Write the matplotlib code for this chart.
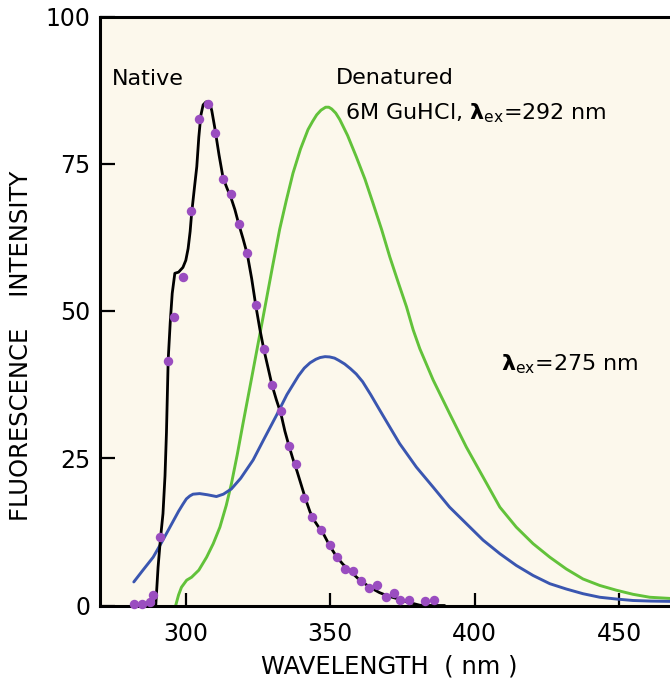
import matplotlib
matplotlib.use("Agg")
import matplotlib.pyplot as plt

plt.rcParams['font.family'] = ['DejaVu Sans']
plt.rcParams['mathtext.fontset'] = 'dejavusans'

# Native protein, fitted line (black)
native_x = [289.6, 290.4, 291.2, 292.1, 292.8, 293.3, 293.9, 294.6, 295.3, 296.2, 297.5, 299.0,
            300.0, 300.8, 301.5, 302.0, 303.0, 303.8, 304.5, 305.2, 306.0, 307.0, 308.2, 309.0,
            310.0, 311.5, 312.9, 314.3, 315.6, 317.0, 318.3, 319.8, 321.3, 322.8, 324.2, 325.6,
            327.0, 328.5, 329.8, 331.3, 332.9, 334.3, 335.6, 337.0, 338.5, 340.0, 341.5, 343.0,
            344.5, 346.0, 347.5, 349.0, 350.5, 352.3, 354.4, 357.0, 360.0, 363.7, 367.0, 370.0,
            372.9, 376.0, 379.0, 381.0, 385.0, 389.6]
native_y = [0.0, 6.5, 11.2, 15.6, 22.0, 29.3, 41.7, 48.0, 53.0, 56.4, 56.6, 57.4,
            58.6, 60.6, 63.5, 66.5, 71.0, 74.5, 79.5, 83.2, 85.0, 85.5, 85.5, 84.0,
            81.2, 76.5, 72.6, 70.8, 69.3, 67.2, 64.8, 62.3, 59.6, 55.5, 51.0, 47.0,
            43.5, 40.3, 37.5, 35.0, 32.6, 29.6, 27.3, 25.0, 22.8, 20.4, 18.0, 15.9,
            14.4, 13.3, 12.3, 10.9, 9.6, 8.2, 7.0, 5.8, 4.4, 3.1, 2.2, 1.6,
            1.2, 0.7, 0.3, 0.05, 0.0, 0.0]

# Native protein, measured points (purple dots)
dots_x = [282.0, 285.0, 287.5, 288.7, 291.0, 293.7, 295.8, 299.1, 301.7, 304.5, 307.7, 310.0,
          312.9, 315.6, 318.3, 321.3, 324.2, 327.0, 329.8, 332.9, 335.6, 338.0, 340.8, 343.6,
          346.7, 349.8, 352.3, 355.0, 357.9, 360.8, 363.4, 366.2, 369.2, 372.0, 374.3, 377.3,
          382.7, 385.8]
dots_y = [0.3, 0.2, 0.6, 1.7, 11.6, 41.5, 49.0, 55.8, 67.0, 82.6, 85.2, 80.3,
          72.4, 69.8, 64.8, 59.8, 51.0, 43.5, 37.4, 33.0, 27.0, 24.1, 18.2, 15.0,
          12.8, 10.2, 8.2, 6.2, 5.8, 4.1, 3.0, 3.4, 1.4, 2.1, 0.85, 1.0,
          0.7, 0.85]

# Denatured, excitation 275 nm (blue)
ex275_x = [282.0, 285.0, 288.7, 291.5, 294.5, 297.5, 299.0, 300.2, 301.4, 302.5, 304.8, 307.5,
           310.6, 313.0, 315.8, 319.0, 323.3, 327.0, 331.4, 335.0, 339.0, 341.0, 343.0, 345.0,
           346.5, 348.2, 349.8, 351.5, 353.0, 355.0, 357.0, 359.0, 361.2, 364.0, 367.1, 370.0,
           374.0, 379.8, 385.6, 391.3, 397.1, 402.9, 408.7, 414.4, 420.2, 426.0, 431.7, 437.5,
           443.3, 449.0, 454.8, 461.0, 467.6]
ex275_y = [4.0, 5.9, 8.2, 10.6, 13.3, 16.0, 17.2, 18.1, 18.6, 18.9, 19.0, 18.8,
           18.5, 18.9, 19.8, 21.6, 24.7, 28.2, 32.3, 35.8, 39.0, 40.3, 41.2, 41.8,
           42.1, 42.25, 42.2, 42.0, 41.6, 41.0, 40.2, 39.3, 38.0, 35.8, 33.2, 30.8,
           27.5, 23.5, 20.1, 16.7, 13.9, 11.1, 8.8, 6.8, 5.1, 3.7, 2.8, 2.0,
           1.4, 1.1, 0.85, 0.75, 0.7]

# Denatured, excitation 292 nm (green)
ex292_x = [296.5, 297.5, 298.5, 300.3, 302.0, 304.5, 307.2, 309.5, 311.8, 314.0, 315.8, 317.8,
           319.8, 322.7, 324.5, 327.3, 330.0, 332.5, 334.8, 337.1, 339.7, 342.3, 343.9, 345.3,
           346.8, 348.4, 349.5, 350.5, 351.9, 353.3, 356.0, 359.0, 362.0, 364.8, 367.8, 370.6,
           373.5, 376.4, 378.7, 381.0, 385.6, 391.3, 397.1, 402.9, 408.7, 414.4, 420.2, 426.0,
           431.7, 437.5, 443.3, 449.0, 454.8, 460.6, 467.6]
ex292_y = [0.0, 1.8, 3.1, 4.3, 4.8, 6.0, 8.2, 10.5, 13.3, 17.0, 20.7, 25.6,
           30.9, 38.4, 43.1, 50.4, 57.5, 63.9, 68.8, 73.4, 77.5, 80.8, 82.2, 83.3,
           84.1, 84.6, 84.6, 84.3, 83.6, 82.5, 79.8, 76.2, 72.4, 68.3, 63.8, 59.2,
           54.9, 50.7, 46.8, 43.6, 38.3, 32.6, 26.9, 21.8, 16.7, 13.3, 10.5, 8.2,
           6.2, 4.5, 3.4, 2.6, 1.9, 1.4, 1.2]

x_ticks = [300, 350, 400, 450]
y_ticks = [0, 25, 50, 75, 100]

fig = plt.figure(figsize=(6.7, 6.88), dpi=100)
ax = fig.add_axes([100/670, 1 - 605.5/688, 570/670, 589/688])
ax.set_facecolor('#fcf8ec')

line_kw = dict(solid_joinstyle='round', solid_capstyle='round')
ax.plot(ex292_x, ex292_y, color='#62c23a', lw=2.1, zorder=2, **line_kw)
ax.plot(ex275_x, ex275_y, color='#3a56b0', lw=2.1, zorder=2, **line_kw)
ax.plot(native_x, native_y, color='black', lw=2.0, zorder=3, **line_kw)
ax.plot(dots_x, dots_y, linestyle='none', marker='o', ms=6.8, color='#9a4dc0',
        markeredgewidth=0, zorder=4, clip_on=False)

ax.set_xlim(270.3, 467.6)
ax.set_ylim(0, 100)
ax.set_xticks(x_ticks)
ax.set_yticks(y_ticks)
ax.tick_params(axis='both', direction='in', width=1.6, labelsize=17, color='black')
ax.tick_params(axis='y', length=11, pad=7)
ax.tick_params(axis='x', length=9.5, pad=12)

for side in ['left', 'bottom', 'top']:
    ax.spines[side].set_linewidth(2.2)
ax.spines['right'].set_visible(False)

ax.set_xlabel('WAVELENGTH  ( nm )', fontsize=17.5)
ax.xaxis.set_label_coords(0.507, -0.083)
ax.set_ylabel('FLUORESCENCE    INTENSITY', fontsize=17.5)
ax.yaxis.set_label_coords(-0.118, 0.441)

ax.text(274.4, 89.4, 'Native', fontsize=16, ha='left', va='center')
ax.text(352.1, 89.5, 'Denatured', fontsize=16, ha='left', va='center')
ax.text(355.0, 83.5, r'6M GuHCl, $\boldsymbol{\lambda}_{\rm ex}$=292 nm', fontsize=16,
        ha='left', va='center')
ax.text(409.2, 41.0, r'$\boldsymbol{\lambda}_{\rm ex}$=275 nm', fontsize=16,
        ha='left', va='center')

fig.savefig('out.png', dpi=100, facecolor='white')
